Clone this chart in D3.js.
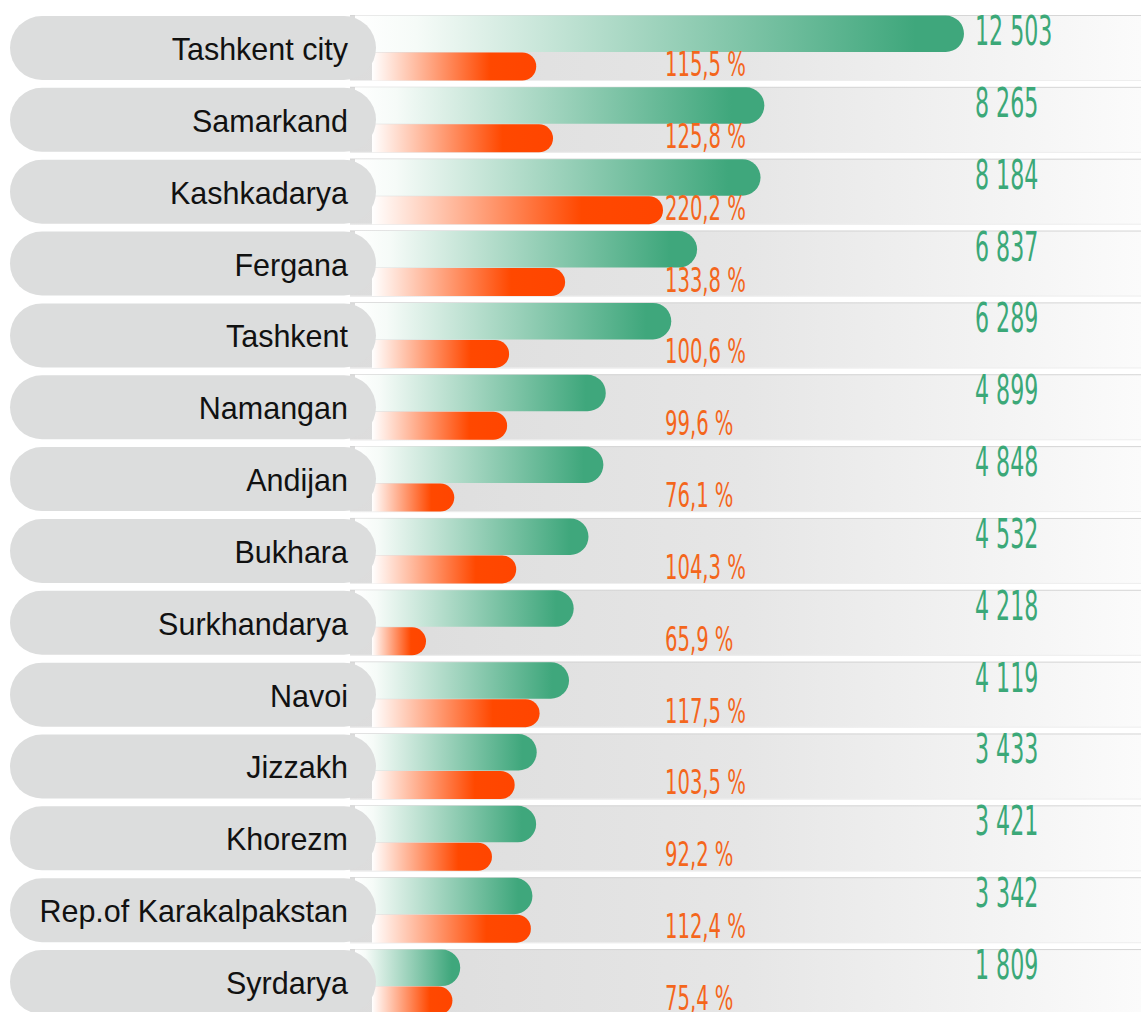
<!DOCTYPE html>
<html><head><meta charset="utf-8">
<script src="https://cdn.jsdelivr.net/npm/d3@7"></script>
<style>html,body{margin:0;padding:0;background:#fff;overflow:hidden}</style>
</head><body>
<svg id="chart" width="1141" height="1012"></svg>
<script>
const regions = ["Tashkent city","Samarkand","Kashkadarya","Fergana","Tashkent","Namangan","Andijan","Bukhara","Surkhandarya","Navoi","Jizzakh","Khorezm","Rep.of Karakalpakstan","Syrdarya"];
const volumes = [12503, 8265, 8184, 6837, 6289, 4899, 4848, 4532, 4218, 4119, 3433, 3421, 3342, 1809];
const growth = [115.5, 125.8, 220.2, 133.8, 100.6, 99.6, 76.1, 104.3, 65.9, 117.5, 103.5, 92.2, 112.4, 75.4];
const volumeLabels = ["12 503","8 265","8 184","6 837","6 289","4 899","4 848","4 532","4 218","4 119","3 433","3 421","3 342","1 809"];
const growthLabels = ["115,5 %","125,8 %","220,2 %","133,8 %","100,6 %","99,6 %","76,1 %","104,3 %","65,9 %","117,5 %","103,5 %","92,2 %","112,4 %","75,4 %"];

const svg = d3.select("#chart");
const data = regions.map((r,i)=>({r, v:volumes[i], g:growth[i], vl:volumeLabels[i], gl:growthLabels[i]}));

const y = d3.scaleBand().domain(regions).range([15, 1015.05]).paddingInner(0.0814).paddingOuter(0);
const xG = d3.scaleLinear().domain([0, 12503]).range([375, 964]);
const xO = d3.scaleLog().domain([65.9, 220.2]).range([426, 663]);

const defs = svg.append("defs");
const bandGrad = defs.append("linearGradient").attr("id","bandGrad").attr("x1","0").attr("x2","1").attr("y1","0").attr("y2","0");
bandGrad.append("stop").attr("offset","0").attr("stop-color","#dcdcdc");
bandGrad.append("stop").attr("offset","0.5").attr("stop-color","#e6e6e6");
bandGrad.append("stop").attr("offset","1").attr("stop-color","#fbfbfb");
const gGrad = defs.append("linearGradient").attr("id","gGrad").attr("x1","0").attr("x2","1").attr("y1","0").attr("y2","0");
gGrad.append("stop").attr("offset","0").attr("stop-color","#ffffff");
gGrad.append("stop").attr("offset","0.1").attr("stop-color","#f6fbf8");
gGrad.append("stop").attr("offset","0.92").attr("stop-color","#3fa77c");
gGrad.append("stop").attr("offset","1").attr("stop-color","#3fa77c");
const oGrad = defs.append("linearGradient").attr("id","oGrad").attr("x1","0").attr("x2","1").attr("y1","0").attr("y2","0");
oGrad.append("stop").attr("offset","0").attr("stop-color","#ffffff");
oGrad.append("stop").attr("offset","0.1").attr("stop-color","#ffe6dc");
oGrad.append("stop").attr("offset","0.72").attr("stop-color","#ff4800");
oGrad.append("stop").attr("offset","1").attr("stop-color","#ff4500");

function roundRight(x0, x1, yy, h){
  const r = h/2;
  const xs = Math.max(x0, x1 - r);
  return `M${x0},${yy}H${xs}A${r},${r} 0 0 1 ${xs},${yy+h}H${x0}Z`;
}

const bw = y.bandwidth();
const rows = svg.selectAll("g.row").data(data).join("g").attr("class","row")
  .attr("transform", d=>`translate(0,${y(d.r)})`);

// background band
rows.append("rect").attr("x",350).attr("y",0).attr("width",791).attr("height",bw).attr("fill","url(#bandGrad)");
rows.append("line").attr("x1",350).attr("x2",1141).attr("y1",0.5).attr("y2",0.5).attr("stroke","#d6d6d6").attr("stroke-width",1);
rows.append("line").attr("x1",350).attr("x2",1141).attr("y1",bw-0.5).attr("y2",bw-0.5).attr("stroke","#eeeeee").attr("stroke-width",1);

// green bar
rows.append("path").attr("d", d=>roundRight(355, xG(d.v), 0.5, 36.5)).attr("fill","url(#gGrad)");
// orange bar
rows.append("path").attr("d", d=>roundRight(372, xO(d.g), 37.5, 28)).attr("fill","url(#oGrad)");

// pill label
rows.append("rect").attr("x",10).attr("y",1).attr("width",366).attr("height",64).attr("rx",32).attr("ry",32).attr("fill","#dcdddd");
rows.append("text").attr("x",348).attr("y",45).attr("text-anchor","end")
  .attr("font-family","'Liberation Sans', Arial, sans-serif").attr("font-size",30.5).attr("fill","#111")
  .text(d=>d.r);

// value labels
rows.append("g").attr("transform","translate(975,30)")
  .append("text").attr("transform","scale(0.6,1)")
  .attr("font-family","'DejaVu Sans Condensed', 'DejaVu Sans', sans-serif").attr("font-size",41)
  .attr("fill","#3ba878").text(d=>d.vl);

rows.append("g").attr("transform","translate(665,61)")
  .append("text").attr("transform","scale(0.66,1)")
  .attr("font-family","'DejaVu Sans Condensed', 'DejaVu Sans', sans-serif").attr("font-size",33)
  .attr("fill","#f4661c").text(d=>d.gl);
</script>
</body></html>
